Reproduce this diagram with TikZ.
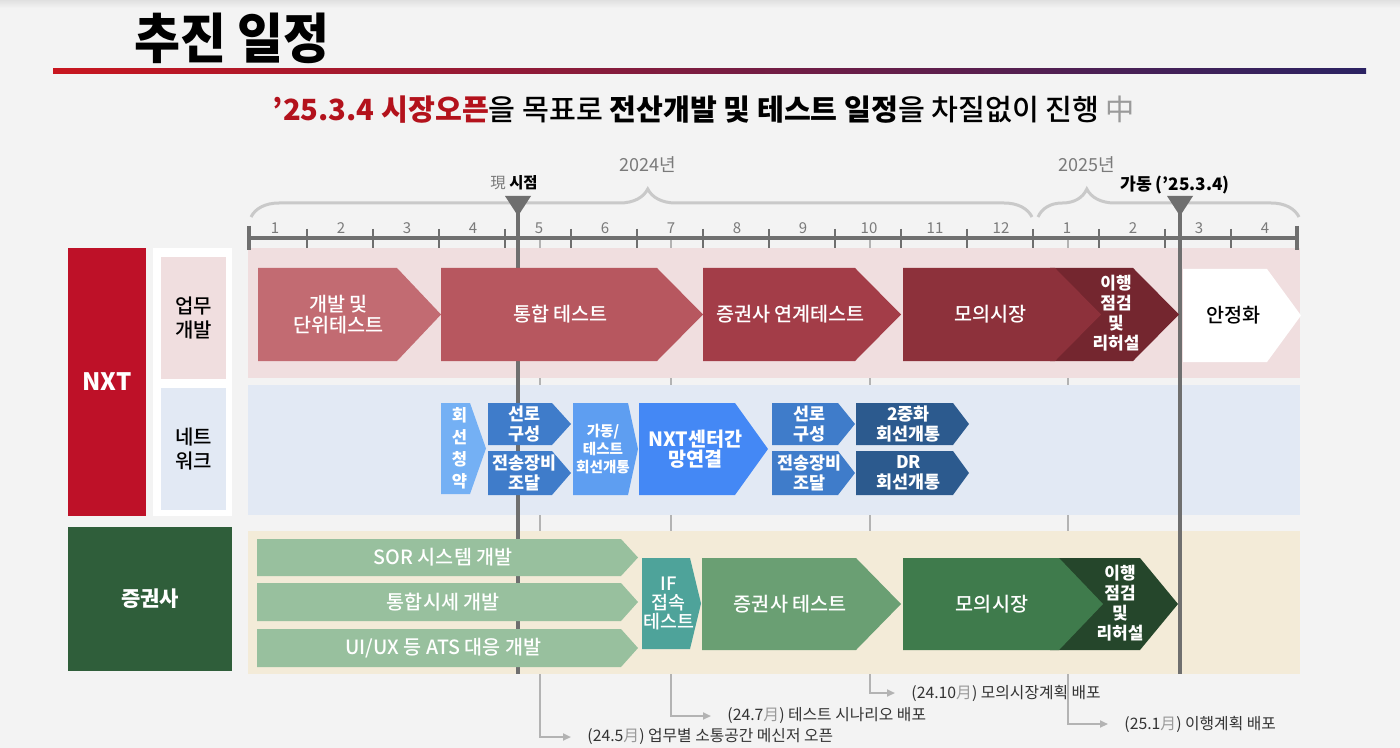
\documentclass[tikz,border=0pt]{standalone}
\usepackage{fontspec}
\setmainfont{Noto Sans CJK KR}
\newfontfamily\medium{Noto Sans CJK KR Medium}
\usepackage{graphicx}
\usepackage{tikz}
\usetikzlibrary{arrows.meta}
\usetikzlibrary{decorations.pathreplacing}

\definecolor{bgcol}{HTML}{F3F3F3}
\definecolor{axisgray}{HTML}{6F6F6F}
\definecolor{bracegray}{HTML}{C9C9C9}
\definecolor{guidegray}{HTML}{B3B3B3}
\definecolor{monthgray}{HTML}{7A7A7A}
\definecolor{notetext}{HTML}{333333}
\definecolor{moongray}{HTML}{9A9A9A}
\definecolor{nxtred}{HTML}{BE1128}
\definecolor{subred}{HTML}{B3121C}
\definecolor{titlered}{HTML}{C8161F}
\definecolor{titlemid}{HTML}{8A1633}
\definecolor{titlenavy}{HTML}{2B2262}
\definecolor{pinkband}{HTML}{F0DEDF}
\definecolor{blueband}{HTML}{E2E9F4}
\definecolor{beigeband}{HTML}{F3EBD8}
\definecolor{secgreen}{HTML}{2F5E3A}
\definecolor{devA}{HTML}{C26B72}
\definecolor{devB}{HTML}{B7575F}
\definecolor{devC}{HTML}{A33D48}
\definecolor{devD}{HTML}{8D313B}
\definecolor{devE}{HTML}{74262F}
\definecolor{netA}{HTML}{74B0F4}
\definecolor{netB}{HTML}{3F7CCA}
\definecolor{netC}{HTML}{5E9EF1}
\definecolor{netD}{HTML}{4488F5}
\definecolor{netE}{HTML}{2C5A8E}
\definecolor{secA}{HTML}{98C09E}
\definecolor{secB}{HTML}{4EA39A}
\definecolor{secC}{HTML}{6A9F73}
\definecolor{secD}{HTML}{3F7B4C}
\definecolor{secE}{HTML}{25462B}

% chevron: name, x1, y1, tip x, y2, tip depth, fill, text style, text
\newcommand{\chevbox}[9]{%
	\fill[#7] (#2,#3) -- (#4-#6,#3) -- (#4,{(#3+#5)/2}) -- (#4-#6,#5) -- (#2,#5) -- cycle;
	\node[#8] (#1) at ({(#2+#4-#6/2)/2},{(#3+#5)/2}) {#9};}

\begin{document}
\begin{tikzpicture}[x=0.5pt,y=-0.5pt,
	lbl/.style={text=white,align=center,inner sep=0pt,font=\medium\fontsize{9.8}{10.5}\selectfont},
	lbldark/.style={lbl,text=black},
	lblnet/.style={lbl,font=\bfseries\fontsize{8.7}{9.8}\selectfont},
	lblsmall/.style={lbl,font=\bfseries\fontsize{8.5}{10}\selectfont},
	month/.style={text=monthgray,inner sep=0pt,font=\fontsize{7.5}{8}\selectfont},
	tick/.style={draw=axisgray,line width=0.75pt},
	cursor/.style={draw=axisgray,line width=2pt},
	yearbrace/.style={draw=bracegray,line width=1.5pt,decorate},
	guide/.style={draw=guidegray,line width=1pt,-{Triangle[length=4pt,width=3.5pt]},shorten >=8pt},
	note/.style={anchor=west,inner sep=0pt,text=notetext,font=\fontsize{7.9}{9}\selectfont},
	side/.style={align=center,inner sep=0pt,font=\medium\fontsize{10}{12}\selectfont}]
	\fill[bgcol] (0,0) rectangle (1400,748);
	\useasboundingbox (0,0) rectangle (1400,748);
	\shade[top color=black!12,bottom color=bgcol] (0,0) rectangle (1400,8);
	
	% title
	\node[anchor=west,inner sep=0pt] (title) at (134,38) {\scalebox{1}[1.08]{\bfseries\fontsize{25}{25}\selectfont 추진 일정}};
	\shade[left color=titlered,middle color=titlemid,right color=titlenavy] (53,69) rectangle (1366,74);
	\node[inner sep=0pt,font=\medium\fontsize{14.6}{15}\selectfont] (subtitle) at (704,110) {\textcolor{subred}{\bfseries ’25.3.4 시장오픈}을 목표로 {\bfseries 전산개발 및 테스트 일정}을 차질없이 진행 \textcolor{moongray}{\normalfont 中}};
	
	% notes and guide lines
	\node[note] (n245) at (587,737) {(24.5{\color{moongray}月}) 업무별 소통공간 메신저 오픈};
	\node[note] (n247) at (727,716) {(24.7{\color{moongray}月}) 테스트 시나리오 배포};
	\node[note] (n2410) at (911,693) {(24.10{\color{moongray}月}) 모의시장계획 배포};
	\node[note] (n251) at (1124,724) {(25.1{\color{moongray}月}) 이행계획 배포};
	\coordinate (g245) at (540,238);
	\coordinate (g247) at (671,238);
	\coordinate (g2410) at (870,238);
	\coordinate (g251) at (1068,238);
	\draw[guide] (g245) |- (n245.west);
	\draw[guide] (g247) |- (n247.west);
	\draw[guide] (g2410) |- (n2410.west);
	\draw[guide] (g251) |- (n251.west);
	
	% bands
	\fill[pinkband] (248,248) rectangle (1300,378);
	\fill[blueband] (248,385) rectangle (1300,515);
	\fill[beigeband] (248,531) rectangle (1300,674);
	
	% row labels
	\fill[nxtred] (68,248) rectangle (146,516);
	\node[text=white,font=\bfseries\fontsize{12}{12}\selectfont] (nxt) at (107,382) {NXT};
	\fill[white] (153,248) rectangle (232,516);
	\fill[pinkband] (161,257) rectangle (226,379);
	\node[side] (work) at (193.5,318) {업무\\개발};
	\fill[blueband] (161,388) rectangle (226,510);
	\node[side] (net) at (193.5,449) {네트\\워크};
	\fill[secgreen] (68,527) rectangle (232,671);
	\node[text=white,font=\bfseries\fontsize{10.5}{11}\selectfont] (sec) at (150,599) {증권사};
	
	% axis
	\draw[axisgray,line width=2pt] (248,238) -- (1298,238);
	\draw[axisgray,line width=2pt] (249,226) -- (249,250);
	\draw[axisgray,line width=2pt] (1297,226) -- (1297,250);
	\foreach \i in {1,...,15}
		\draw[tick] ({241+66*\i},229) -- ({241+66*\i},248);
	\foreach \m [count=\i] in {1,2,...,12,1,2,3,4}
		\node[month] (m\i) at ({209+66*\i},228) {\m};
	\draw[yearbrace,decoration={brace,amplitude=14pt,aspect=0.508}] (251,217) -- (1032,217);
	\draw[yearbrace,decoration={brace,amplitude=14pt,aspect=0.187}] (1038,217) -- (1299,217);
	\node[text=monthgray,font=\fontsize{9}{10}\selectfont] (y2024) at (648,165) {2024년};
	\node[text=monthgray,font=\fontsize{9}{10}\selectfont] (y2025) at (1087,165) {2025년};
	
	% now and open markers
	\node[font=\fontsize{7.7}{8}\selectfont] (nowtxt) at (514,183) {\textcolor{monthgray}{現} \textbf{시점}};
	\node[font=\bfseries\fontsize{8.6}{9}\selectfont] (opentxt) at (1175,185) {가동 (’25.3.4)};
	\fill[axisgray] (505,196) -- (531,196) -- (518,216) -- cycle;
	\fill[axisgray] (1167,196) -- (1193,196) -- (1180,216) -- cycle;
	\draw[cursor] (518,210) -- (518,674);
	\draw[cursor] (1180,210) -- (1180,674);
	
	% NXT development
	\chevbox{devunit}{258}{268}{441}{361}{44}{devA}{lbl}{개발 및\\단위테스트}
	\chevbox{inttest}{441}{268}{703}{361}{46}{devB}{lbl}{통합 테스트}
	\chevbox{linktest}{703}{268}{901}{361}{46}{devC}{lbl}{증권사 연계테스트}
	\chevbox{rehearsal}{1050}{268}{1179}{361}{46}{devE}{lbl}{}
	\chevbox{mock}{903}{268}{1101}{361}{46}{devD}{lbl}{모의시장}
	\node[lblsmall] (rehearsaltxt) at (1116,313) {이행\\점검\\및\\리허설};
	\chevbox{stable}{1183}{269}{1301}{362}{34}{white}{lbldark}{안정화}
	
	% NXT network
	\chevbox{apply}{441}{403}{486}{494}{16}{netA}{lblnet,font=\bfseries\fontsize{8.3}{11}\selectfont}{회\\선\\청\\약}
	\chevbox{route1}{488}{403}{571}{445}{19}{netB}{lblnet}{선로\\구성}
	\chevbox{equip1}{488}{451}{571}{495}{19}{netB}{lblnet}{전송장비\\조달}
	\chevbox{open}{573}{403}{638}{495}{10}{netC}{lblnet,font=\bfseries\fontsize{7.3}{9}\selectfont}{가동/\\테스트\\회선개통}
	\chevbox{center}{639}{403}{768}{495}{33}{netD}{lblnet,font=\bfseries\fontsize{9.8}{10}\selectfont}{NXT센터간\\망연결}
	\chevbox{route2}{772}{403}{855}{445}{17}{netB}{lblnet}{선로\\구성}
	\chevbox{equip2}{772}{451}{855}{495}{17}{netB}{lblnet}{전송장비\\조달}
	\chevbox{dual}{856}{403}{969}{445}{16}{netE}{lblnet}{2중화\\회선개통}
	\chevbox{dr}{856}{451}{969}{495}{16}{netE}{lblnet}{DR\\회선개통}
	
	% securities firms
	\chevbox{sor}{257}{539}{638}{576}{17}{secA}{lbl}{SOR 시스템 개발}
	\chevbox{quote}{257}{583}{638}{621}{17}{secA}{lbl}{통합시세 개발}
	\chevbox{uiux}{257}{629}{638}{667}{17}{secA}{lbl}{UI/UX 등 ATS 대응 개발}
	\chevbox{iftest}{642}{558}{701}{649}{11}{secB}{lbl,font=\medium\fontsize{9.2}{9.5}\selectfont}{IF\\접속\\테스트}
	\chevbox{sectest}{702}{558}{901}{650}{45}{secC}{lbl}{증권사 테스트}
	\chevbox{secrehearsal}{1050}{558}{1178}{650}{38}{secE}{lbl}{}
	\chevbox{secmock}{903}{558}{1103}{650}{44}{secD}{lbl}{모의시장}
	\node[lblsmall] (secrehearsaltxt) at (1120,603) {이행\\점검\\및\\리허설};
\end{tikzpicture}
\end{document}
